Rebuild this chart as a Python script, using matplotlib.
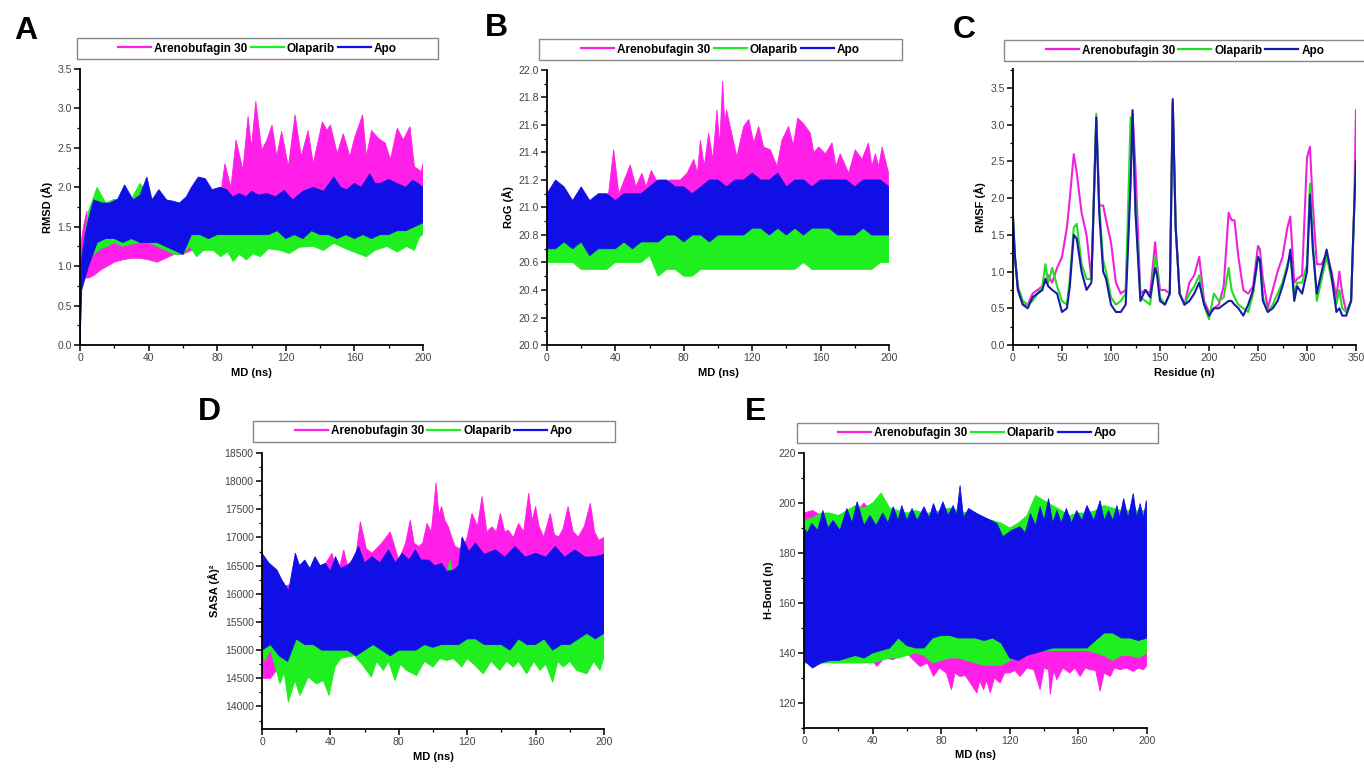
import matplotlib
matplotlib.use("Agg")
import matplotlib.pyplot as plt
from matplotlib.lines import Line2D
from matplotlib.patches import Rectangle
from matplotlib.ticker import MultipleLocator

plt.rcParams['font.family'] = ['Liberation Sans', 'DejaVu Sans']

# series names and colours
labels = ['Arenobufagin 30', 'Olaparib', 'Apo']
colors = ['#ff1fe8', '#1fee1f', '#1010e6']
rmsf_colors = ['#ee22dd', '#22dd22', '#1a1aa8']

# common time grids (ns)
t_rmsd = [0, 1, 3] + list(range(5, 201, 5))
t_ns = list(range(0, 201, 5))

# ---------------- A - RMSD (upper / lower edges of each trace) ----------------
t_rmsd_are_hi = [0, 2, 4, 5, 8, 10, 20, 30, 40, 50,
                 60, 70, 78, 82, 84.5, 88, 91, 95, 98, 100,
                 102.5, 106, 109, 112, 114.7, 117.6, 121.5, 125.4, 129, 133,
                 136, 141.3, 144, 146, 150, 153.5, 157.4, 160, 164.8, 167,
                 170, 174, 178, 181, 185, 188.5, 192.4, 195, 199, 200]
rmsd_are_hi = [1.2, 1.5, 1.7, 1.4, 1.4, 1.45, 1.5, 1.5, 1.5, 1.5,
               1.6, 1.6, 1.8, 1.9, 2.3, 2.0, 2.6, 2.22, 2.9, 2.5,
               3.09, 2.47, 2.6, 2.79, 2.39, 2.71, 2.26, 2.92, 2.39, 2.72,
               2.3, 2.83, 2.72, 2.79, 2.43, 2.68, 2.39, 2.62, 2.92, 2.39,
               2.72, 2.62, 2.56, 2.35, 2.75, 2.6, 2.77, 2.26, 2.2, 2.3]
t_rmsd_are_lo = [0, 1, 3, 5, 8, 12, 16, 20, 25, 30, 35, 40, 45, 50, 55, 60, 65, 70,
                 75, 80, 85, 90, 100, 120, 140, 160, 180, 200]
rmsd_are_lo = [0.6, 0.75, 0.85, 0.85, 0.88, 0.95, 1.0, 1.05, 1.08, 1.1,
               1.1, 1.08, 1.05, 1.1, 1.15, 1.15, 1.2, 1.2, 1.22, 1.25,
               1.4, 1.7, 1.8, 1.8, 1.85, 1.85, 1.8, 1.9]
rmsd_ola_hi = [0.3, 1.1, 1.4, 1.7, 2.0, 1.8, 1.85, 1.8, 1.85, 2.05, 1.9, 1.8, 1.75,
               1.75, 1.75, 1.6, 1.65, 1.6, 1.6, 1.6, 1.65, 1.6, 1.6,
               1.8, 1.7, 1.65, 1.65, 1.7, 1.75, 1.7, 1.75, 1.8, 1.95,
               1.75, 1.7, 1.75, 1.7, 1.7, 1.75, 1.7, 1.75, 1.7, 1.8]
t_rmsd_ola_lo = [0, 1, 3, 5, 8, 12, 16, 20, 25, 30,
                 35, 40, 45, 50, 55, 60, 64, 68, 72, 77.7,
                 82, 86, 89.4, 93, 97, 101, 105, 110, 116.6, 122,
                 128, 136, 142, 148, 155, 162, 167, 172, 179, 185,
                 190.5, 195, 198, 200]
rmsd_ola_lo = [0.0, 0.7, 0.9, 1.05, 1.15, 1.22, 1.25, 1.3, 1.25, 1.28,
               1.3, 1.3, 1.25, 1.2, 1.15, 1.15, 1.25, 1.12, 1.2, 1.2,
               1.12, 1.18, 1.06, 1.15, 1.08, 1.16, 1.12, 1.22, 1.2, 1.16,
               1.24, 1.25, 1.2, 1.29, 1.22, 1.16, 1.12, 1.2, 1.25, 1.18,
               1.25, 1.2, 1.37, 1.4]
t_rmsd_apo_hi = [0, 1, 3, 5, 8, 13, 17.5, 22, 26, 31,
                 35, 39, 42, 46, 50.5, 55, 58, 62, 65, 69,
                 73, 77, 81.6, 85.5, 89, 93, 97, 100, 104, 109,
                 114, 119, 124, 130, 136, 142, 148, 152, 155.5, 160,
                 164, 169, 172, 175, 180, 184.6, 190, 194, 197, 200]
rmsd_apo_hi = [0.3, 1.1, 1.4, 1.6, 1.84, 1.8, 1.8, 1.85, 2.03, 1.84,
               1.9, 2.13, 1.84, 1.97, 1.84, 1.82, 1.8, 1.88, 2.0, 2.13,
               2.11, 1.97, 2.0, 1.97, 1.88, 1.92, 1.88, 1.95, 1.9, 1.92,
               1.88, 1.96, 1.84, 1.95, 2.0, 1.95, 2.13, 2.0, 1.97, 2.05,
               2.0, 2.17, 2.05, 2.05, 2.1, 2.05, 2.0, 2.09, 2.05, 2.0]
rmsd_apo_lo = [0.0, 0.7, 0.85, 1.0, 1.3, 1.35, 1.35, 1.3, 1.35, 1.3, 1.3, 1.3, 1.25,
               1.2, 1.15, 1.4, 1.4, 1.35, 1.4, 1.4, 1.4, 1.4, 1.4,
               1.4, 1.4, 1.45, 1.35, 1.4, 1.35, 1.45, 1.4, 1.4, 1.35,
               1.4, 1.35, 1.4, 1.35, 1.4, 1.4, 1.45, 1.45, 1.5, 1.55]

# ---------------- B - radius of gyration ----------------
t_rog_are_hi = [0, 10, 20, 30, 36, 39, 42, 48.7, 52, 55.5,
                58, 61, 66, 72, 78, 82, 85.8, 88, 89.7, 92,
                94.5, 97, 99.4, 101, 102.7, 104, 105, 108, 111, 115,
                118, 120.9, 123.8, 126.7, 130.6, 134.5, 137.4, 141.3, 144, 146.6,
                150, 154, 156, 158.9, 162.8, 166.7, 169, 171.5, 176.4, 180.3,
                184.2, 188, 190, 192, 194, 196, 199.8]
rog_are_hi = [21.0, 21.05, 21.05, 21.05, 21.1, 21.42, 21.1, 21.31, 21.15, 21.25,
              21.15, 21.27, 21.15, 21.2, 21.2, 21.25, 21.35, 21.25, 21.49, 21.3,
              21.54, 21.35, 21.71, 21.45, 21.92, 21.6, 21.71, 21.54, 21.37, 21.59,
              21.64, 21.47, 21.59, 21.44, 21.42, 21.3, 21.49, 21.59, 21.45, 21.65,
              21.61, 21.54, 21.4, 21.44, 21.39, 21.47, 21.3, 21.39, 21.25, 21.42,
              21.35, 21.47, 21.3, 21.39, 21.3, 21.44, 21.25]
rog_are_lo = [20.65, 20.7, 20.7, 20.75, 20.75, 20.75, 20.75, 20.7, 20.75, 20.7,
              20.75, 20.75, 20.75, 20.8, 20.85, 20.9, 20.95, 21.0, 21.0, 21.05,
              21.05, 21.05, 21.0, 21.05, 21.05, 21.05, 21.05, 21.0, 21.05, 21.05,
              21.05, 21.05, 21.05, 21.05, 21.05, 21.05, 21.05, 21.05, 21.05, 21.05, 21.05]
rog_ola_hi = [20.95, 20.95, 20.95, 20.95, 20.95, 20.95, 20.95, 20.95, 20.95, 20.95,
              20.95, 20.95, 20.9, 20.85, 20.85, 20.85, 20.8, 20.85, 20.85, 20.85,
              20.85, 20.85, 20.85, 20.9, 20.95, 20.85, 20.85, 20.95, 20.85, 20.85,
              20.85, 20.85, 20.85, 20.85, 20.85, 20.9, 20.9, 20.85, 20.85, 20.9, 20.8]
rog_ola_lo = [20.6, 20.6, 20.6, 20.6, 20.55, 20.55, 20.55, 20.55, 20.6, 20.6,
              20.6, 20.6, 20.65, 20.5, 20.55, 20.55, 20.5, 20.5, 20.55, 20.55,
              20.55, 20.55, 20.55, 20.55, 20.55, 20.55, 20.55, 20.55, 20.55, 20.55,
              20.6, 20.55, 20.55, 20.55, 20.55, 20.55, 20.55, 20.55, 20.55, 20.6, 20.6]
rog_apo_hi = [21.1, 21.2, 21.15, 21.05, 21.15, 21.05, 21.1, 21.1, 21.05, 21.1,
              21.1, 21.1, 21.15, 21.2, 21.2, 21.15, 21.15, 21.1, 21.15, 21.2,
              21.2, 21.15, 21.2, 21.2, 21.25, 21.2, 21.2, 21.25, 21.15, 21.2,
              21.2, 21.15, 21.2, 21.2, 21.2, 21.2, 21.15, 21.2, 21.2, 21.2, 21.15]
rog_apo_lo = [20.7, 20.7, 20.75, 20.7, 20.75, 20.65, 20.7, 20.7, 20.7, 20.75,
              20.7, 20.75, 20.75, 20.75, 20.8, 20.8, 20.75, 20.8, 20.8, 20.75,
              20.8, 20.8, 20.8, 20.8, 20.85, 20.85, 20.8, 20.85, 20.8, 20.85,
              20.8, 20.85, 20.85, 20.85, 20.8, 20.8, 20.8, 20.85, 20.8, 20.8, 20.8]

# ---------------- C - RMSF per residue ----------------
residue = [0, 2, 5, 10, 15, 20, 25, 30, 33, 36,
           40, 45, 50, 55, 58, 62, 65, 70, 75, 80,
           85, 88, 92, 95, 100, 105, 110, 115, 120, 122,
           125, 130, 135, 140, 145, 147, 150, 155, 160, 163,
           166, 170, 175, 180, 185, 190, 195, 200, 205, 210,
           215, 220, 223, 226, 230, 235, 240, 245, 250, 252,
           255, 260, 265, 270, 275, 280, 283, 287, 290, 295,
           300, 303, 306, 310, 315, 320, 325, 330, 333, 336,
           340, 345, 348, 350]
rmsf_are = [1.6, 1.2, 0.75, 0.55, 0.55, 0.7, 0.75, 0.8, 0.85, 0.95,
            0.85, 1.05, 1.2, 1.6, 2.0, 2.6, 2.35, 1.8, 1.5, 0.9,
            3.05, 1.9, 1.9, 1.7, 1.4, 0.85, 0.7, 0.75, 2.4, 3.15,
            2.4, 0.7, 0.75, 0.7, 1.4, 1.1, 0.75, 0.75, 0.7, 3.3,
            1.6, 0.7, 0.55, 0.85, 0.95, 1.2, 0.6, 0.45, 0.5, 0.55,
            0.8, 1.8, 1.7, 1.7, 1.2, 0.75, 0.7, 0.8, 1.35, 1.3,
            0.9, 0.5, 0.75, 1.0, 1.2, 1.6, 1.75, 0.85, 0.9, 0.95,
            2.55, 2.7, 1.9, 1.1, 1.1, 1.25, 1.0, 0.65, 1.0, 0.7,
            0.45, 0.6, 1.8, 3.2]
rmsf_ola = [1.7, 1.2, 0.8, 0.6, 0.55, 0.6, 0.7, 0.8, 1.1, 0.85,
            1.05, 0.8, 0.6, 0.55, 0.9, 1.6, 1.65, 1.1, 0.9, 0.9,
            3.15, 1.9, 1.15, 1.0, 0.65, 0.55, 0.6, 0.7, 3.1, 3.0,
            1.9, 0.65, 0.6, 0.55, 1.2, 1.05, 0.65, 0.55, 0.7, 3.3,
            1.6, 0.7, 0.55, 0.7, 0.8, 0.95, 0.55, 0.35, 0.7, 0.6,
            0.65, 1.05, 0.75, 0.65, 0.55, 0.5, 0.45, 0.7, 1.2, 1.15,
            0.65, 0.45, 0.55, 0.7, 0.85, 1.1, 1.2, 0.7, 0.85, 0.85,
            1.1, 2.2, 1.4, 0.6, 0.9, 1.2, 0.9, 0.55, 0.75, 0.5,
            0.45, 0.6, 1.8, 2.5]
rmsf_apo = [1.75, 1.2, 0.75, 0.55, 0.5, 0.65, 0.7, 0.75, 0.9, 0.8,
            0.75, 0.7, 0.45, 0.5, 0.8, 1.5, 1.45, 1.0, 0.75, 0.85,
            3.1, 1.8, 1.0, 0.9, 0.55, 0.45, 0.45, 0.55, 2.2, 3.2,
            1.8, 0.6, 0.75, 0.65, 1.05, 0.95, 0.6, 0.55, 0.7, 3.35,
            1.6, 0.7, 0.55, 0.6, 0.7, 0.85, 0.55, 0.4, 0.5, 0.5,
            0.55, 0.6, 0.6, 0.55, 0.5, 0.4, 0.55, 0.75, 1.2, 1.15,
            0.6, 0.45, 0.5, 0.6, 0.8, 1.05, 1.3, 0.6, 0.8, 0.7,
            1.0, 2.05, 1.3, 0.7, 1.0, 1.3, 0.95, 0.45, 0.5, 0.4,
            0.4, 0.6, 1.8, 2.5]

# ---------------- D - SASA ----------------
t_sasa_are_hi = [0, 10, 20, 30, 41, 44, 47.8, 50, 52.6, 55,
                 57.5, 61, 64.3, 70, 75, 78, 80, 84, 86.7, 89,
                 91.6, 94, 96.5, 99, 101.8, 103.5, 105, 107, 109, 111,
                 113, 117, 120, 122.8, 126, 128.7, 131.5, 134.5, 137, 139.4,
                 142, 144, 147, 150, 153, 156, 158, 160, 162, 164.7,
                 166.5, 168.6, 171, 173.5, 176, 179, 182, 185, 188.5, 192,
                 194.5, 197, 200]
sasa_are_hi = [16000, 16100, 16200, 16200, 16720, 16300, 16780, 16500, 16600, 16700,
               17280, 16800, 16720, 16900, 17100, 16800, 16600, 16900, 17310, 16900,
               16840, 16900, 17250, 17100, 17970, 17400, 17550, 17300, 17190, 17000,
               16840, 16780, 17000, 17430, 17200, 17730, 17100, 17190, 17100, 17430,
               17100, 17130, 17000, 17250, 17100, 17790, 17300, 17550, 17200, 17010,
               17200, 17430, 17050, 17010, 17150, 17550, 17100, 17010, 17200, 17610,
               17100, 16950, 17000]
sasa_are_lo = [14500, 14500, 14700, 14800, 14900, 14500, 14600, 14500, 14600, 14900,
               15500, 15600, 15600, 15600, 15600, 15700, 15700, 15700, 15800, 15800,
               15800, 15800, 15800, 15800, 15800, 15800, 15800, 15800, 15800, 15800,
               15800, 15800, 15800, 15800, 15800, 15800, 15800, 15800, 15800, 15800, 15800]
sasa_ola_hi = [15800, 15600, 15500, 15400, 15600, 15600, 15500, 15500, 15500, 15600,
               15600, 15600, 15500, 15600, 15600, 15600, 15500, 15600, 15600, 15600,
               15700, 16000, 16600, 15700, 15700, 15700, 15700, 15800, 15700, 15700,
               15700, 15700, 15700, 15700, 15700, 15700, 15700, 15700, 15700, 15700, 15700]
t_sasa_ola_lo = [0, 1.8, 5, 7.8, 10.5, 13, 15.4, 19.3, 22.2, 27,
                 32, 35.9, 39.2, 42.7, 46, 49.5, 54, 58.3, 64, 67,
                 71, 74, 77.8, 81, 84.6, 90.4, 95, 100, 104, 108,
                 112, 116.8, 120, 123.6, 129.4, 134, 139, 143, 147, 150,
                 154.8, 159, 162.6, 166, 170, 173, 176.2, 180, 184, 190,
                 194, 197.7, 200]
sasa_ola_lo = [14900, 14817, 15000, 14700, 14400, 14600, 14077, 14460, 14195, 14520,
               14400, 14460, 14195, 14700, 14850, 14875, 14900, 14757, 14520, 14800,
               14640, 14800, 14460, 14750, 14640, 14550, 14800, 14700, 14850, 14817,
               14850, 14700, 14850, 14757, 14580, 14800, 14640, 14800, 14700, 14800,
               14580, 14800, 14640, 14750, 14430, 14800, 14700, 14800, 14640, 14580,
               14800, 14640, 14875]
t_sasa_apo_hi = [0, 4, 8.8, 11.7, 15.6, 19.5, 22, 25, 28, 31,
                 34, 37, 40, 43, 46, 48.7, 52, 56.5, 60, 64.3,
                 69, 74, 78, 82, 86, 89.7, 93, 97.5, 101, 105,
                 108, 112, 115, 117, 121, 124.8, 130, 136.5, 142, 148,
                 154, 160, 166, 171.5, 177, 183, 189, 195, 200]
sasa_apo_hi = [16720, 16550, 16420, 16240, 16060, 16720, 16500, 16600, 16450, 16660,
               16500, 16540, 16400, 16660, 16450, 16490, 16550, 16840, 16550, 16660,
               16550, 16780, 16550, 16720, 16600, 16780, 16600, 16600, 16500, 16540,
               16400, 16420, 16500, 17010, 16750, 16900, 16700, 16780, 16650, 16840,
               16650, 16720, 16650, 16840, 16650, 16780, 16650, 16660, 16700]
sasa_apo_lo = [15000, 15100, 14900, 14800, 15200, 15100, 15100, 15000, 15000, 15000,
               15000, 14900, 15000, 15100, 15000, 14900, 15000, 15000, 15000, 15100,
               15050, 15100, 15100, 15100, 15200, 15200, 15100, 15100, 15100, 15000,
               15200, 15100, 15100, 15200, 15000, 15100, 15100, 15200, 15300, 15200, 15300]

# ---------------- E - hydrogen bonds ----------------
hb_are_hi = [196, 197, 195, 193, 193, 194, 196, 200, 196, 193,
             193, 193, 193, 193, 193, 193, 193, 193, 193, 193,
             193, 193, 193, 190, 186, 188, 193, 193, 193, 193,
             193, 193, 193, 193, 193, 193, 193, 193, 193, 193, 193]
t_hb_are_lo = [0, 10, 20, 30, 38.5, 42.4, 47, 52, 56, 60,
               64, 67.7, 72, 75.5, 79, 83, 86, 88, 91, 94,
               97, 100.8, 102.5, 104.7, 106.5, 108.6, 111, 114.4, 117, 120,
               123, 126, 130, 134, 137.7, 140, 142.6, 143.6, 145.5, 147.5,
               151, 155, 158, 161, 164, 167, 170, 172.7, 175, 178.6,
               181, 184.4, 188, 192, 195, 198, 200]
hb_are_lo = [136, 137, 138, 139, 138.6, 134.6, 138, 137.3, 139, 140,
             137, 134.6, 136, 130.6, 134, 132, 125.3, 132, 130.6, 131,
             128, 124, 129, 125.3, 129, 124, 130, 128, 132, 132,
             133, 130.6, 134, 133.3, 125.3, 134, 133.3, 123.3, 133, 129.3,
             134, 132, 134, 130.6, 134, 133.3, 133, 124.7, 132, 130.6,
             134, 133.3, 134, 132.6, 134, 133.3, 135]
hb_ola_hi = [193, 194, 196, 196, 195, 197, 199, 198, 200, 204,
             198, 197, 196, 197, 196, 196, 197, 198, 197, 196,
             195, 194, 193, 192, 190, 192, 195, 203, 201, 199,
             197, 195, 196, 196, 197, 199, 198, 197, 197, 197, 197]
hb_ola_lo = [136, 136, 136, 136, 136, 136, 136, 136, 136, 137,
             138, 138, 139, 140, 139, 136, 137, 138, 138, 137,
             136, 135, 135, 135, 137, 138, 140, 141, 141, 141,
             141, 141, 141, 141, 140, 139, 137, 139, 139, 138, 140]
t_hb_apo_hi = [0, 2, 4.5, 8, 11, 14, 17, 21, 25, 28,
               31, 35, 38.5, 42, 46, 49, 52, 55, 57, 60,
               63, 66, 70, 73, 75.5, 78, 81, 84, 87, 89,
               91, 93, 96, 100.8, 106.6, 112.5, 116, 121, 126, 129,
               132, 135, 137.7, 140, 142.6, 145, 147.5, 150, 153, 156,
               159, 162, 165, 169, 172.7, 175, 177.6, 180, 182.5, 184,
               186.4, 189, 192, 194, 196, 198, 199.6, 200]
hb_apo_hi = [190, 188, 191.8, 189, 197, 190, 193, 189, 197.8, 192,
             200.5, 191, 195, 191, 196, 192, 198.5, 193, 199, 193,
             197.8, 193, 198.5, 194, 199.8, 195, 200.5, 195, 199, 195,
             207, 194, 197.8, 195.8, 193.8, 191.8, 186.5, 189, 190.5, 188,
             195.8, 191, 198.5, 193, 201.8, 192, 197, 192, 197.8, 192,
             197, 193, 199, 193, 201, 193, 197, 193, 199, 194,
             201.8, 194, 203.8, 194, 199.8, 194, 201, 192]
hb_apo_lo = [137, 134, 136, 137, 137, 138, 139, 138, 140, 141,
             142, 146, 143, 142, 142, 146, 147, 147, 146, 146,
             146, 145, 146, 144, 138, 137, 139, 140, 141, 142,
             142, 142, 142, 142, 145, 148, 148, 146, 146, 145, 146]


def style_axis(ax, xlim, ylim, xmaj, xmin, ymaj, ymin, xlabel, ylabel, yfmt):
    ax.set_xlim(*xlim)
    ax.set_ylim(*ylim)
    ax.xaxis.set_major_locator(MultipleLocator(xmaj))
    ax.xaxis.set_minor_locator(MultipleLocator(xmin))
    ax.yaxis.set_major_locator(MultipleLocator(ymaj))
    ax.yaxis.set_minor_locator(MultipleLocator(ymin))
    ax.yaxis.set_major_formatter(plt.FormatStrFormatter(yfmt))
    for s in ['top', 'right']:
        ax.spines[s].set_visible(False)
    for s in ['left', 'bottom']:
        ax.spines[s].set_linewidth(1.3)
    ax.tick_params(which='major', direction='out', length=4, width=1.1,
                   labelsize=7.5, labelcolor='#444444', pad=2)
    ax.tick_params(which='minor', direction='out', length=2, width=0.9)
    ax.set_xlabel(xlabel, fontsize=8, fontweight='bold', labelpad=3)
    ax.set_ylabel(ylabel, fontsize=8, fontweight='bold', labelpad=3)


def add_legend(ax, x0, x1, y0, y1, cols):
    ax.add_patch(Rectangle((x0, y0), x1 - x0, y1 - y0, transform=ax.transAxes,
                           fill=False, edgecolor='#888888', lw=1.0, clip_on=False))
    handles = [Line2D([], [], color=c, lw=1.6) for c in cols]
    ax.legend(handles, labels, loc='center', bbox_to_anchor=((x0 + x1) / 2, (y0 + y1) / 2),
              ncol=3, frameon=False, prop={'weight': 'bold', 'size': 8.5},
              handlelength=2.8, handletextpad=0.25, columnspacing=0.25,
              borderaxespad=0, borderpad=0)


def bands(ax, series):
    # each trace is drawn as the area between its upper and lower edge
    for (th, hi, tl, lo), c in zip(series, colors):
        xs = list(th) + list(tl)[::-1]
        ys = list(hi) + list(lo)[::-1]
        ax.fill(xs, ys, color=c, lw=0.6)


fig = plt.figure(figsize=(13.64, 7.7), dpi=100)
W, H = 1364, 770


def make_axes(x0, x1, ytop, ybot):
    return fig.add_axes([x0 / W, 1 - ybot / H, (x1 - x0) / W, (ybot - ytop) / H])


axA = make_axes(80, 423, 69, 345)
axB = make_axes(547, 889, 70, 345)
axC = make_axes(1013, 1356, 69, 345)
axD = make_axes(262, 604, 453, 729)
axE = make_axes(804, 1147, 453, 728)

bands(axA, [(t_rmsd_are_hi, rmsd_are_hi, t_rmsd_are_lo, rmsd_are_lo),
            (t_rmsd, rmsd_ola_hi, t_rmsd_ola_lo, rmsd_ola_lo),
            (t_rmsd_apo_hi, rmsd_apo_hi, t_rmsd, rmsd_apo_lo)])
style_axis(axA, (0, 200), (0, 3.5), 40, 20, 0.5, 0.25, 'MD (ns)', 'RMSD (Å)', '%.1f')
add_legend(axA, -0.009, 1.044, 1.036, 1.112, colors)

bands(axB, [(t_rog_are_hi, rog_are_hi, t_ns, rog_are_lo),
            (t_ns, rog_ola_hi, t_ns, rog_ola_lo),
            (t_ns, rog_apo_hi, t_ns, rog_apo_lo)])
style_axis(axB, (0, 200), (20.0, 22.0), 40, 20, 0.2, 0.1, 'MD (ns)', 'RoG (Å)', '%.1f')
add_legend(axB, -0.023, 1.038, 1.036, 1.113, colors)

for vals, c in zip([rmsf_are, rmsf_ola, rmsf_apo], rmsf_colors):
    axC.plot(residue, vals, color=c, lw=1.5)
style_axis(axC, (0, 350), (0, 3.76), 50, 25, 0.5, 0.25, 'Residue (n)', 'RMSF (Å)', '%.1f')
add_legend(axC, -0.026, 1.03, 1.029, 1.105, rmsf_colors)

bands(axD, [(t_sasa_are_hi, sasa_are_hi, t_ns, sasa_are_lo),
            (t_ns, sasa_ola_hi, t_sasa_ola_lo, sasa_ola_lo),
            (t_sasa_apo_hi, sasa_apo_hi, t_ns, sasa_apo_lo)])
style_axis(axD, (0, 200), (13600, 18500), 40, 20, 500, 250, 'MD (ns)', 'SASA (Å)²', '%d')
add_legend(axD, -0.026, 1.032, 1.04, 1.116, colors)

bands(axE, [(t_ns, hb_are_hi, t_hb_are_lo, hb_are_lo),
            (t_ns, hb_ola_hi, t_ns, hb_ola_lo),
            (t_hb_apo_hi, hb_apo_hi, t_ns, hb_apo_lo)])
style_axis(axE, (0, 200), (110, 220), 40, 20, 20, 10, 'MD (ns)', 'H-Bond (n)', '%d')
add_legend(axE, -0.02, 1.032, 1.036, 1.109, colors)

for letter, (px, py) in zip('ABCDE', [(26, 31), (496, 28), (964, 30), (209, 412), (756, 412)]):
    fig.text(px / W, 1 - py / H, letter, fontsize=23, fontweight='bold',
             ha='center', va='center')

fig.savefig('out.png', dpi=100)
